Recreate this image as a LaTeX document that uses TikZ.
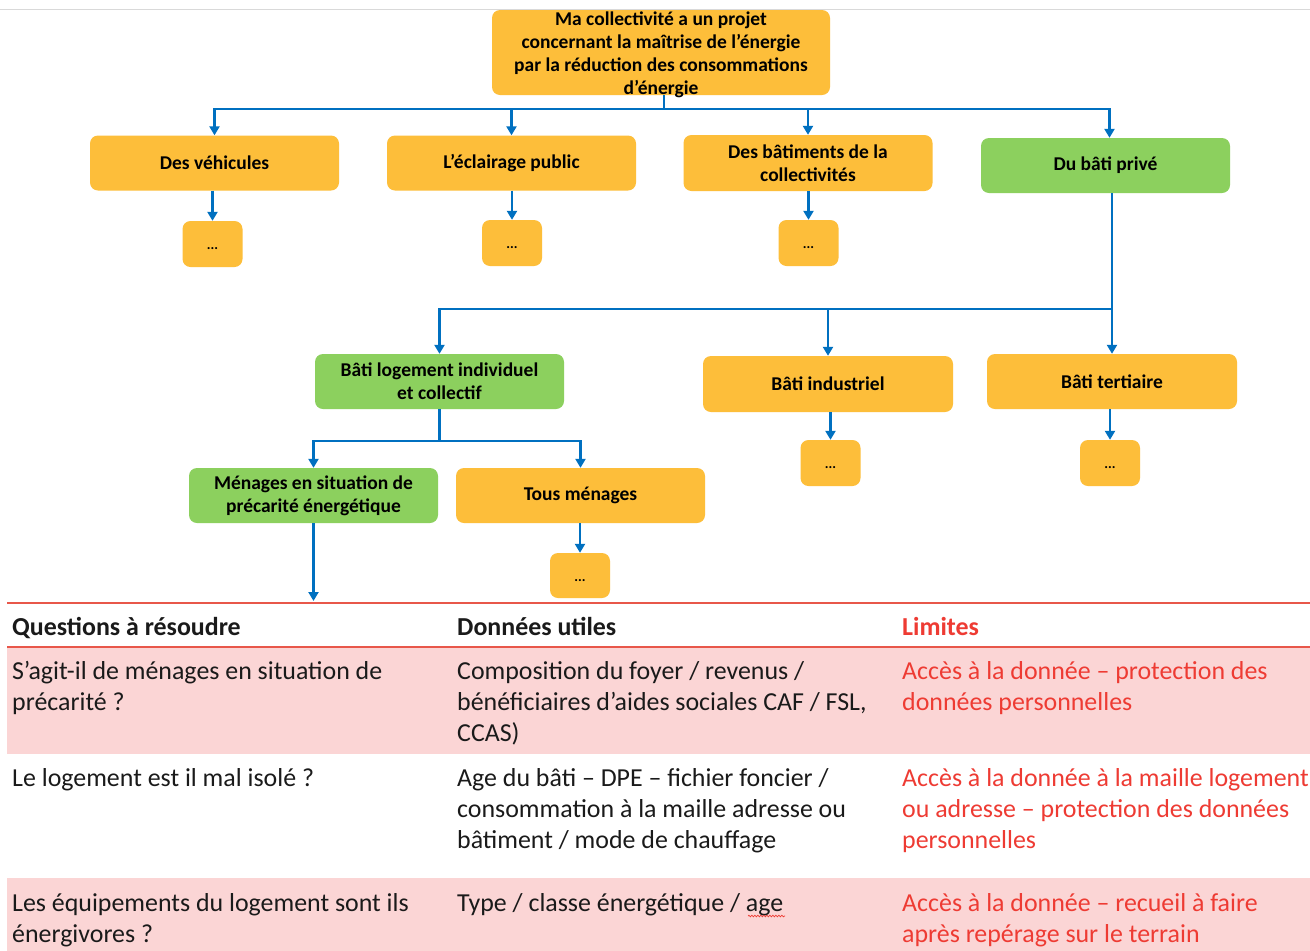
\documentclass[tikz,border=0pt]{standalone}
\usepackage{fontspec}
\setmainfont{Carlito}
\usetikzlibrary{arrows.meta,decorations.pathmorphing}
\definecolor{orng}{HTML}{FDBE3A}
\definecolor{grn}{HTML}{8CD05E}
\definecolor{blu}{HTML}{0070C0}
\definecolor{pinkc}{HTML}{FBD5D5}
\definecolor{redl}{HTML}{E8574A}
\definecolor{redt}{HTML}{EE3B33}
\definecolor{txt}{HTML}{1A1A1A}
\begin{document}
\begin{tikzpicture}[x=1pt,y=-1pt,
  box/.style={fill=orng, rounded corners=8pt, align=center, inner sep=0pt,
    font=\bfseries\fontsize{19.5}{23}\selectfont, text=black},
  gbox/.style={box, fill=grn},
  std/.style={minimum width=249pt, minimum height=55pt},
  dots/.style={box, minimum width=60pt, minimum height=46pt, font=\bfseries\fontsize{14}{16}\selectfont},
  line/.style={draw=blu, line width=2.6pt},
  arr/.style={line, -{Triangle[length=9pt,width=10pt]}},
  cell/.style={anchor=north west, inner sep=0pt, align=left, text=txt,
    font=\fontsize{25.9}{31}\selectfont},
  hcell/.style={cell, font=\bfseries\fontsize{25.9}{31}\selectfont},
]
\useasboundingbox (0,0) rectangle (1310,951);
\fill[white] (0,0) rectangle (1310,951);
\draw[black!15, line width=1pt] (0,9) -- (1310,9);

% boxes
\node[box, minimum width=338pt, minimum height=85pt] (top) at (661,52.5) {};
\node[align=center, inner sep=0pt, font=\bfseries\fontsize{19.5}{23}\selectfont] (topt) at (661,55)
  {Ma collectivité a un projet\\concernant la maîtrise de l’énergie\\par la réduction des consommations\\d’énergie};
\node[box, std] (veh) at (214.5,163) {Des véhicules};
\node[box, std] (ecl) at (511.5,163) {L’éclairage public};
\node[box, std, minimum height=56pt] (bat) at (808,163) {Des bâtiments de la\\collectivités};
\node[gbox, std] (priv) at (1105.5,165.5) {Du bâti privé};
\node[gbox, std] (log) at (439.5,381.5) {Bâti logement individuel\\et collectif};
\node[box, std, minimum width=250pt, minimum height=56pt] (ind) at (828,384) {Bâti industriel};
\node[box, std, minimum width=250pt] (tert) at (1112,381.5) {Bâti tertiaire};
\node[gbox, std] (men) at (313.5,495.5) {Ménages en situation de\\précarité énergétique};
\node[box, std] (tous) at (580.5,495.5) {Tous ménages};

\node[dots] (d1) at (212.5,244) {\rule{0pt}{12pt}...};
\node[dots] (d2) at (512,243) {\rule{0pt}{12pt}...};
\node[dots] (d3) at (808.5,243) {\rule{0pt}{12pt}...};
\node[dots] (d4) at (830.5,463) {\rule{0pt}{12pt}...};
\node[dots] (d5) at (1110,463) {\rule{0pt}{12pt}...};
\node[dots, minimum height=45pt] (d6) at (580,575.5) {\rule{0pt}{12pt}...};

% connectors
\coordinate (bus1) at (664,109);
\draw[line] (top.south -| bus1) -- (bus1);
\draw[arr] (bus1) -| (veh.north);
\draw[arr] (bus1) -| (ecl.north);
\draw[arr] (bus1) -| (bat.north);
\draw[arr] (bus1) -| ([xshift=4pt]priv.north);

\draw[arr] (d1.north |- veh.south) -- (d1.north);
\draw[arr] (d2.north |- ecl.south) -- (d2.north);
\draw[arr] (d3.north |- bat.south) -- (d3.north);

\coordinate (bus2) at (1112,309);
\draw[arr] (tert.north |- priv.south) -- (tert.north);
\draw[arr] (bus2) -| (log.north);
\draw[arr] (bus2) -| (ind.north);

\draw[arr] (d4.north |- ind.south) -- (d4.north);
\draw[arr] (d5.north |- tert.south) -- (d5.north);

\coordinate (bus3) at (439.5,441);
\draw[line] (log.south) -- (bus3);
\draw[arr] (bus3) -| (men.north);
\draw[arr] (bus3) -| (tous.north);
\draw[arr] (d6.north |- tous.south) -- (d6.north);

\coordinate (tabtop) at (315,601);
\draw[arr] (men.south) -- (men.south |- tabtop);

% table
\fill[pinkc] (7,648) rectangle (1310,754);
\fill[pinkc] (7,878) rectangle (1310,951);
\draw[redl, line width=2pt] (7,603) -- (1310,603);
\draw[redl, line width=2pt] (7,647) -- (1310,647);

\node[hcell] (tq0) at (12,613.5) {\strut Questions à résoudre};
\node[hcell] (td0) at (457,613.5) {\strut Données utiles};
\node[hcell, text=redt] (tl0) at (902,613.5) {\strut Limites};

\node[cell] (tq1) at (12,657.8) {\strut S’agit-il de ménages en situation de\\précarité ?};
\node[cell] (td1) at (457,657.8) {\strut Composition du foyer / revenus /\\bénéficiaires d’aides sociales CAF / FSL,\\CCAS)};
\node[cell, text=redt] (tl1) at (902,657.8) {\strut Accès à la donnée – protection des\\données personnelles};

\node[cell] (tq2) at (12,765) {\strut Le logement est il mal isolé ?};
\node[cell] (td2) at (457,765) {\strut Age du bâti – DPE – fichier foncier /\\consommation à la maille adresse ou\\bâtiment / mode de chauffage};
\node[cell, text=redt] (tl2) at (902,765) {\strut Accès à la donnée à la maille logement\\ou adresse – protection des données\\personnelles};

\node[cell] (tq3) at (12,889.8) {\strut Les équipements du logement sont ils\\énergivores ?};
\node[cell] (td3) at (457,889.8) {\strut Type / classe énergétique / age};
\node[cell, text=redt] (tl3) at (902,889.8) {\strut Accès à la donnée – recueil à faire\\après repérage sur le terrain};

\draw[redt, line width=0.7pt, decorate, decoration={snake, amplitude=0.8pt, segment length=3pt}]
  (748,916) -- (785,916);
\end{tikzpicture}
\end{document}
